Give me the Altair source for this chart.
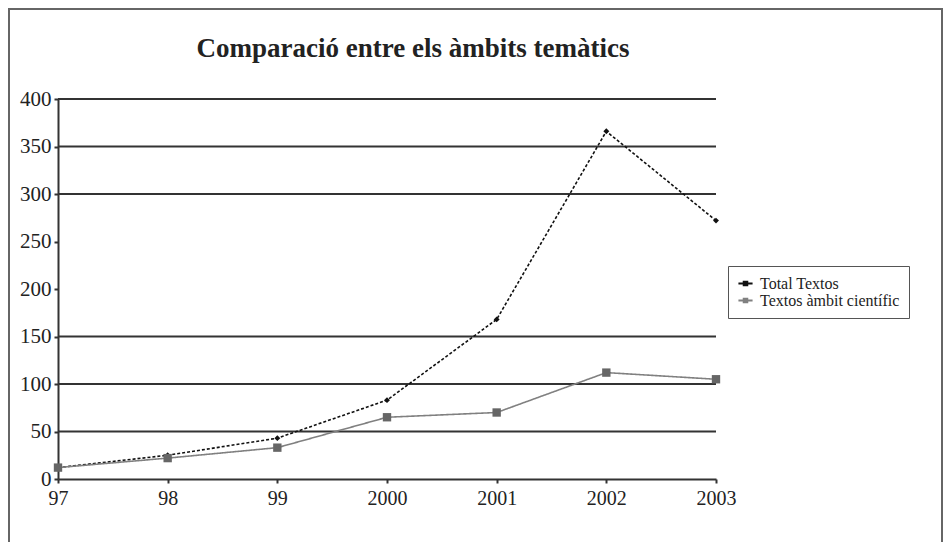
import altair as alt
import pandas as pd

years = ["97", "98", "99", "2000", "2001", "2002", "2003"]
total_textos = [12, 25, 43, 83, 168, 366, 272]
textos_cientific = [12, 22, 33, 65, 70, 112, 105]
series_names = ["Total Textos", "Textos àmbit científic"]
grid_values = [50, 100, 150, 300, 350, 400]
y_ticks = [0, 50, 100, 150, 200, 250, 300, 350, 400]
title_text = "Comparació entre els àmbits temàtics"

rows = []
for i, y in enumerate(years):
    rows.append({"any": y, "serie": series_names[0], "valor": total_textos[i]})
    rows.append({"any": y, "serie": series_names[1], "valor": textos_cientific[i]})
df = pd.DataFrame(rows)
grid_df = pd.DataFrame({"g": grid_values})

FONT = "Liberation Serif"

x_enc = alt.X("any:O", sort=years, scale=alt.Scale(padding=0),
              axis=alt.Axis(title=None, labelAngle=0, labelFont=FONT, labelFontSize=20,
                            labelColor="#222", domainColor="#333", domainWidth=2,
                            tickColor="#333", tickWidth=2, tickSize=4, labelPadding=5,
                            grid=False))
y_scale = alt.Scale(domain=[0, 400], nice=False)

color = alt.Color("serie:N", sort=series_names,
                  scale=alt.Scale(domain=series_names, range=["#111111", "#808080"]),
                  legend=alt.Legend(title=None, orient="none", legendX=670, legendY=167,
                                    labelFont=FONT, labelFontSize=16, labelColor="#222",
                                    strokeColor="#555", fillColor="white", padding=9,
                                    symbolType="M-1,0L1,0M-0.25,-0.25L0.25,-0.25L0.25,0.25L-0.25,0.25Z",
                                    symbolSize=200, symbolStrokeWidth=2, rowPadding=-1,
                                    labelOffset=6))

grid = alt.Chart(grid_df).mark_rule(color="#333", strokeWidth=2).encode(
    y=alt.Y("g:Q", scale=y_scale),
)

lines = alt.Chart(df).mark_line(strokeWidth=1.6).encode(
    x=x_enc,
    y=alt.Y("valor:Q", scale=y_scale,
            axis=alt.Axis(title=None, values=y_ticks, labelFont=FONT, labelFontSize=21,
                          labelColor="#222", domainColor="#333", domainWidth=2,
                          tickColor="#333", tickWidth=2, tickSize=4, labelPadding=3,
                          grid=False)),
    color=color,
    strokeDash=alt.StrokeDash("serie:N", sort=series_names,
                              scale=alt.Scale(domain=series_names, range=[[3, 2], [1, 0]]),
                              legend=None),
)

points = alt.Chart(df).mark_point(filled=True, opacity=1).encode(
    x=alt.X("any:O", sort=years),
    y=alt.Y("valor:Q", scale=y_scale),
    color=alt.Color("serie:N", sort=series_names,
                    scale=alt.Scale(domain=series_names, range=["#111111", "#666666"]),
                    legend=None),
    shape=alt.Shape("serie:N", sort=series_names,
                    scale=alt.Scale(domain=series_names, range=["diamond", "square"]),
                    legend=None),
    size=alt.Size("serie:N", sort=series_names,
                  scale=alt.Scale(domain=series_names, range=[35, 70]), legend=None),
)

border = alt.Chart(alt.Data(values=[{}])).mark_rect(
    filled=False, stroke="#666", strokeWidth=2
).encode(
    x=alt.value(-49), x2=alt.value(884), y=alt.value(-90), y2=alt.value(480)
)

title = alt.Chart(alt.Data(values=[{"t": title_text}])).mark_text(
    font=FONT, fontSize=27, fontWeight="bold", color="#222", align="center",
    baseline="alphabetic"
).encode(
    text="t:N", x=alt.value(355), y=alt.value(-42)
)

chart = alt.layer(border, title, grid, lines, points).resolve_scale(
    color="independent", shape="independent", size="independent"
).properties(
    width=658, height=380,
    padding={"left": 50, "top": 91, "right": 227, "bottom": 63},
    autosize=alt.AutoSizeParams(type="none"),
).configure_view(stroke=None)

chart.save("out.html", embed_options={"renderer": "svg", "actions": False})
